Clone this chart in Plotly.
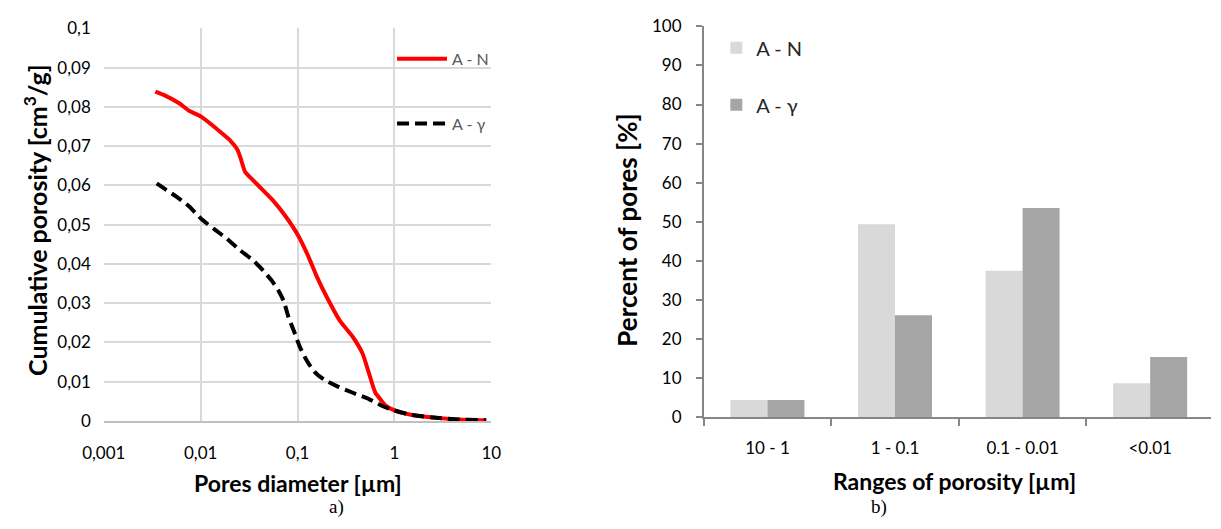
import plotly.graph_objects as go

W, H = 1221, 529

# Cumulative porosity curves (pore diameter in µm, cumulative volume in cm3/g)
d_AN = [0.0034, 0.0041, 0.0060, 0.0076, 0.0101, 0.0129, 0.0163, 0.0204, 0.0238,
        0.0257, 0.0288, 0.0348, 0.0438, 0.0551, 0.0748, 0.1016, 0.1277, 0.1606,
        0.2019, 0.274, 0.372, 0.468, 0.545, 0.635, 0.712, 0.798, 1.00, 1.47,
        2.51, 4.63, 8.85]
v_AN = [0.0839, 0.0831, 0.0809, 0.0790, 0.0775, 0.0755, 0.0734, 0.0713, 0.0692,
        0.0671, 0.0634, 0.0613, 0.0588, 0.0563, 0.0522, 0.0472, 0.0422, 0.0364,
        0.0314, 0.0255, 0.0214, 0.0172, 0.0122, 0.0072, 0.0056, 0.0041, 0.0027,
        0.0016, 0.0009, 0.0004, 0.0002]

d_AG = [0.00352, 0.00443, 0.00557, 0.00757, 0.0103, 0.0139, 0.0189, 0.0257,
        0.0348, 0.0438, 0.0551, 0.0642, 0.0720, 0.0807, 0.0940, 0.1054, 0.1230,
        0.1487, 0.187, 0.254, 0.372, 0.545, 0.740, 1.00, 1.47, 2.51, 4.63, 8.85]
v_AG = [0.0605, 0.0588, 0.0572, 0.0547, 0.0513, 0.0488, 0.0463, 0.0434, 0.0409,
        0.0384, 0.0355, 0.0330, 0.0305, 0.0264, 0.0222, 0.0189, 0.0156, 0.0126,
        0.0106, 0.0089, 0.0072, 0.0056, 0.0039, 0.0027, 0.0016, 0.0009, 0.0004,
        0.0002]

# Pore size distribution by range
ranges = ["10 - 1", "1 - 0.1", "0.1 - 0.01", "<0.01"]
pct_AN = [4.4, 49.4, 37.5, 8.7]
pct_AG = [4.4, 26.1, 53.5, 15.4]

x_tickvals = [0.001, 0.01, 0.1, 1, 10]
x_ticktext = ["0,001", "0,01", "0,1", "1", "10"]
y_tickvals = [0, 0.01, 0.02, 0.03, 0.04, 0.05, 0.06, 0.07, 0.08, 0.09, 0.1]
y_ticktext = ["0", "0,01", "0,02", "0,03", "0,04", "0,05", "0,06", "0,07",
              "0,08", "0,09", "0,1"]


def px(x):
    return x / W


def py(y):
    return 1 - y / H


FONT = "Lato"
GRID = "#d9d9d9"
AXIS = "#868686"

fig = go.Figure()

fig.add_trace(go.Scatter(
    x=d_AN, y=v_AN, name="A - N", mode="lines",
    line=dict(color="#ff0000", width=4, shape="spline", smoothing=0.6),
    xaxis="x", yaxis="y", legend="legend", legendgroup="an"))
fig.add_trace(go.Scatter(
    x=d_AG, y=v_AG, name="A - γ", mode="lines",
    line=dict(color="#000000", width=4, dash="12px,6px", shape="spline", smoothing=0.6),
    xaxis="x", yaxis="y", legend="legend", legendgroup="ag"))

fig.add_trace(go.Bar(
    x=ranges, y=pct_AN, name="A - N", marker=dict(color="#d9d9d9", line=dict(width=0)),
    xaxis="x2", yaxis="y2", legend="legend2", legendgroup="bn"))
fig.add_trace(go.Bar(
    x=ranges, y=pct_AG, name="A - γ", marker=dict(color="#a5a5a5", line=dict(width=0)),
    xaxis="x2", yaxis="y2", legend="legend2", legendgroup="bg"))

tick_font = dict(family=FONT, size=17, color="#000000")

fig.update_layout(
    width=W, height=H,
    margin=dict(l=0, r=0, t=0, b=0),
    paper_bgcolor="white", plot_bgcolor="white",
    barmode="group", bargap=0.42, bargroupgap=0,
    font=dict(family=FONT, color="#000000"),
    xaxis=dict(
        domain=[px(84), px(482)], type="log", range=[-3, 1],
        tickvals=x_tickvals, ticktext=x_ticktext, tickfont=tick_font,
        showgrid=True, gridcolor=GRID, gridwidth=1.5,
        showline=True, linecolor="#bfbfbf", linewidth=1.5, mirror=False,
        ticks="", ticklabelstandoff=16, zeroline=False, anchor="y"),
    yaxis=dict(
        domain=[py(427), py(18)], range=[0, 0.1],
        tickvals=y_tickvals, ticktext=y_ticktext, tickfont=tick_font,
        showgrid=True, gridcolor=GRID, gridwidth=1.5,
        showline=False, ticks="", ticklabelstandoff=12, zeroline=False,
        anchor="x"),
    xaxis2=dict(
        domain=[px(700), 1.0], type="category", range=[-0.5, 3.477],
        tickfont=tick_font, showgrid=False,
        showline=True, linecolor=AXIS, linewidth=1.5,
        ticks="outside", tickson="boundaries", ticklen=7, tickcolor=AXIS,
        tickwidth=1.5, ticklabelstandoff=15, anchor="y2"),
    yaxis2=dict(
        domain=[py(423), py(16)], range=[0, 100], dtick=10,
        tickfont=tick_font, showgrid=False, zeroline=False,
        showline=True, linecolor=AXIS, linewidth=1.5,
        ticks="outside", ticklen=6, tickcolor=AXIS, tickwidth=1.5,
        ticklabelstandoff=11, anchor="x2"),
    legend=dict(
        x=px(380), y=py(32), xanchor="left", yanchor="top",
        bgcolor="rgba(0,0,0,0)", borderwidth=0,
        font=dict(family=FONT, size=16, color="#595959"),
        tracegroupgap=41, itemwidth=50, traceorder="grouped"),
    legend2=dict(
        x=px(713), y=py(18), xanchor="left", yanchor="top",
        bgcolor="rgba(0,0,0,0)", borderwidth=0,
        font=dict(family=FONT, size=20, color="#262626"),
        tracegroupgap=28, traceorder="grouped"),
)

annotations = [
    dict(text="<b>Cumulative porosity [cm<sup>3</sup>/g]</b>", x=px(14), y=py(218),
         textangle=-90, font=dict(family=FONT, size=25, color="#000000"),
         showarrow=False, xanchor="center", yanchor="middle"),
    dict(text="<b>Pores diameter [µm]</b>", x=px(283), y=py(491),
         font=dict(family=FONT, size=23, color="#000000"),
         showarrow=False, xanchor="center", yanchor="middle"),
    dict(text="<b>Percent of pores [%]</b>", x=px(621), y=py(228),
         textangle=-90, font=dict(family=FONT, size=26, color="#000000"),
         showarrow=False, xanchor="center", yanchor="middle"),
    dict(text="<b>Ranges of porosity [µm]</b>", x=px(958), y=py(489),
         font=dict(family=FONT, size=23, color="#000000"),
         showarrow=False, xanchor="center", yanchor="middle"),
    dict(text="a)", x=px(323), y=py(517),
         font=dict(family="Liberation Serif", size=19, color="#000000"),
         showarrow=False, xanchor="center", yanchor="middle"),
    dict(text="b)", x=px(880), y=py(517),
         font=dict(family="Liberation Serif", size=19, color="#000000"),
         showarrow=False, xanchor="center", yanchor="middle"),
]
for a in annotations:
    a["xref"] = "paper"
    a["yref"] = "paper"
fig.update_layout(annotations=annotations)

fig.write_html("out.html")
